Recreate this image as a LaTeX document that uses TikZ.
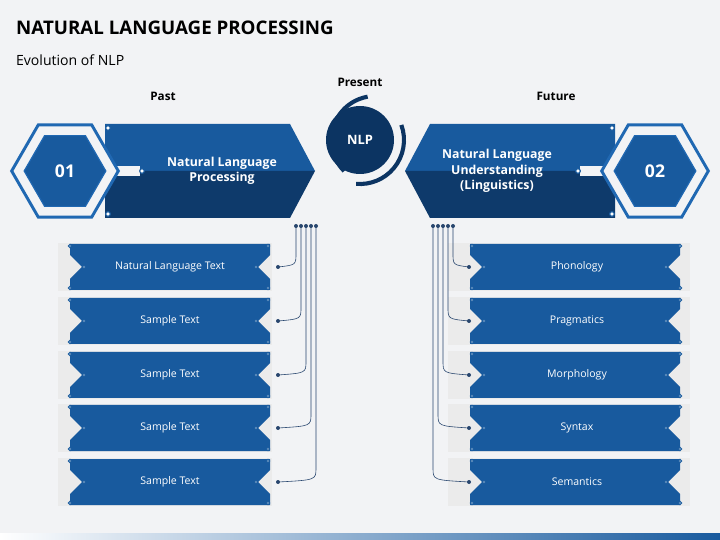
\documentclass[tikz,border=0pt]{standalone}
\usepackage{fontspec}
\setmainfont{Open Sans}
\usetikzlibrary{shapes.geometric,positioning,calc}
\definecolor{nlpblue}{RGB}{24,90,158}
\definecolor{nlpdark}{RGB}{12,52,98}
\definecolor{nlpring}{RGB}{32,104,178}
\definecolor{nlpbg}{RGB}{242,243,245}
\definecolor{nlpline}{RGB}{40,70,110}
\begin{document}
\begin{tikzpicture}[x=0.03cm,y=-0.03cm]

    \tikzset{
        heading/.style = {font=\bfseries\fontsize{10}{12}\selectfont, text=black},
        bantext/.style = {font=\bfseries\fontsize{10.5}{13}\selectfont, text=white, align=center},
        itemtext/.style = {font=\fontsize{9}{11}\selectfont, text=white},
        hexout/.style = {regular polygon, regular polygon sides=6, fill=nlpbg,
            draw=nlpring, line width=2.5pt, minimum size=3.2cm},
        hexin/.style = {regular polygon, regular polygon sides=6, fill=nlpblue,
            draw=nlpring, line width=1pt, minimum size=2.45cm,
            text=white, font=\bfseries\fontsize{15}{18}\selectfont},
        dot/.style = {circle, fill=white, draw=nlpblue, line width=1pt, inner sep=1.4pt},
        wire/.style = {nlpline, line width=0.5pt}
    }

    % background
    \fill[nlpbg] (0,0) rectangle (720,540);
    \useasboundingbox (0,0) rectangle (720,540);
    \shade[left color=white, right color=nlpblue] (0,533) rectangle (720,540);

    % titles
    \node[anchor=west, font=\bfseries\fontsize{16}{19}\selectfont] (title) at (12,28) {NATURAL LANGUAGE PROCESSING};
    \node[anchor=west, font=\fontsize{12}{14}\selectfont] (sub) at (12,60) {Evolution of NLP};
    \node[heading] (past) at (163,96) {Past};
    \node[heading] (present) at (360,82) {Present};
    \node[heading] (future) at (556,96) {Future};

    % left banner
    \fill[nlpblue] (105,124) -- (290,124) -- (315,171) -- (105,171) -- cycle;
    \fill[nlpdark!85!nlpblue] (105,171) -- (315,171) -- (290,218) -- (105,218) -- cycle;
    \fill[nlpbg] (100,166) rectangle (140,176);
    \node[hexout] (hexa) at (65,171) {};
    \node[hexin] (hexai) at (hexa) {01};
    \node[dot] (da1) at (108,128) {};
    \node[dot] (da2) at (108,214) {};
    \node[dot] (da3) at (142,171) {};
    \node[bantext] (bana) at (222,171) {Natural Language\\Processing};

    % right banner
    \fill[nlpblue] (615,124) -- (430,124) -- (405,171) -- (615,171) -- cycle;
    \fill[nlpdark!85!nlpblue] (615,171) -- (405,171) -- (430,218) -- (615,218) -- cycle;
    \fill[nlpbg] (580,166) rectangle (620,176);
    \node[hexout] (hexb) at (655,171) {};
    \node[hexin] (hexbi) at (hexb) {02};
    \node[dot] (db1) at (612,128) {};
    \node[dot] (db2) at (612,214) {};
    \node[dot] (db3) at (578,171) {};
    \node[bantext] (banb) at (497,171) {Natural Language\\Understanding\\(Linguistics)};

    % centre
    \fill[nlpdark] (360,140) circle[radius=34];
    \draw[nlpdark, line width=3.5pt] (360,140) ++(100:-44) arc[start angle=-100, end angle=-225, radius=44];
    \draw[nlpdark, line width=3.5pt] (360,140) ++(-20:44) arc[start angle=-20, end angle=95, radius=44];
    \node[text=white, font=\bfseries\fontsize{11}{13}\selectfont] (nlp) at (360,140) {NLP};

    % list items
    \foreach \y/\lt/\rt [count=\i] in {267/Natural Language Text/Phonology,
            321/Sample Text/Pragmatics, 375/Sample Text/Morphology,
            428/Sample Text/Syntax, 482/Sample Text/Semantics} {
        % left
        \fill[black!8] (58,\y-24) rectangle (272,\y+24);
        \fill[nlpblue] (70,\y-23) -- (270,\y-23) -- (270,\y-12) -- (258,\y) -- (270,\y+12)
            -- (270,\y+23) -- (70,\y+23) -- (70,\y+12) -- (82,\y) -- (70,\y-12) -- cycle;
        \node[dot, inner sep=1pt] at (70,\y-21) {};
        \node[dot, inner sep=1pt] at (70,\y+21) {};
        \node[dot, inner sep=1pt] at (268,\y-21) {};
        \node[dot, inner sep=1pt] at (268,\y+21) {};
        \node[dot, inner sep=1pt] at (84,\y) {};
        \node[dot, inner sep=1pt] at (256,\y) {};
        \node[itemtext] (l\i) at (170,\y) {\lt};
        \coordinate (le\i) at (278,\y);
        % right
        \fill[black!8] (448,\y-24) rectangle (690,\y+24);
        \fill[nlpblue] (470,\y-23) -- (680,\y-23) -- (680,\y-12) -- (668,\y) -- (680,\y+12)
            -- (680,\y+23) -- (470,\y+23) -- (470,\y+12) -- (482,\y) -- (470,\y-12) -- cycle;
        \node[dot, inner sep=1pt] at (472,\y-21) {};
        \node[dot, inner sep=1pt] at (472,\y+21) {};
        \node[dot, inner sep=1pt] at (680,\y-21) {};
        \node[dot, inner sep=1pt] at (680,\y+21) {};
        \node[dot, inner sep=1pt] at (484,\y) {};
        \node[dot, inner sep=1pt] at (666,\y) {};
        \node[itemtext] (r\i) at (577,\y) {\rt};
        \coordinate (re\i) at (469,\y);
        % wires
        \coordinate (lt\i) at (291+5*\i,226);
        \coordinate (rt\i) at (458-5*\i,226);
        \fill[nlpline] (lt\i) circle[radius=2];
        \fill[nlpline] (rt\i) circle[radius=2];
        \fill[nlpline] (le\i) circle[radius=2];
        \fill[nlpline] (re\i) circle[radius=2];
        \draw[wire] (lt\i) -- ($(lt\i |- le\i)+(0,-14)$) .. controls ($(lt\i |- le\i)+(0,-2)$) .. (le\i);
        \draw[wire] (rt\i) -- ($(rt\i |- re\i)+(0,-14)$) .. controls ($(rt\i |- re\i)+(0,-2)$) .. (re\i);
    }

\end{tikzpicture}
\end{document}
